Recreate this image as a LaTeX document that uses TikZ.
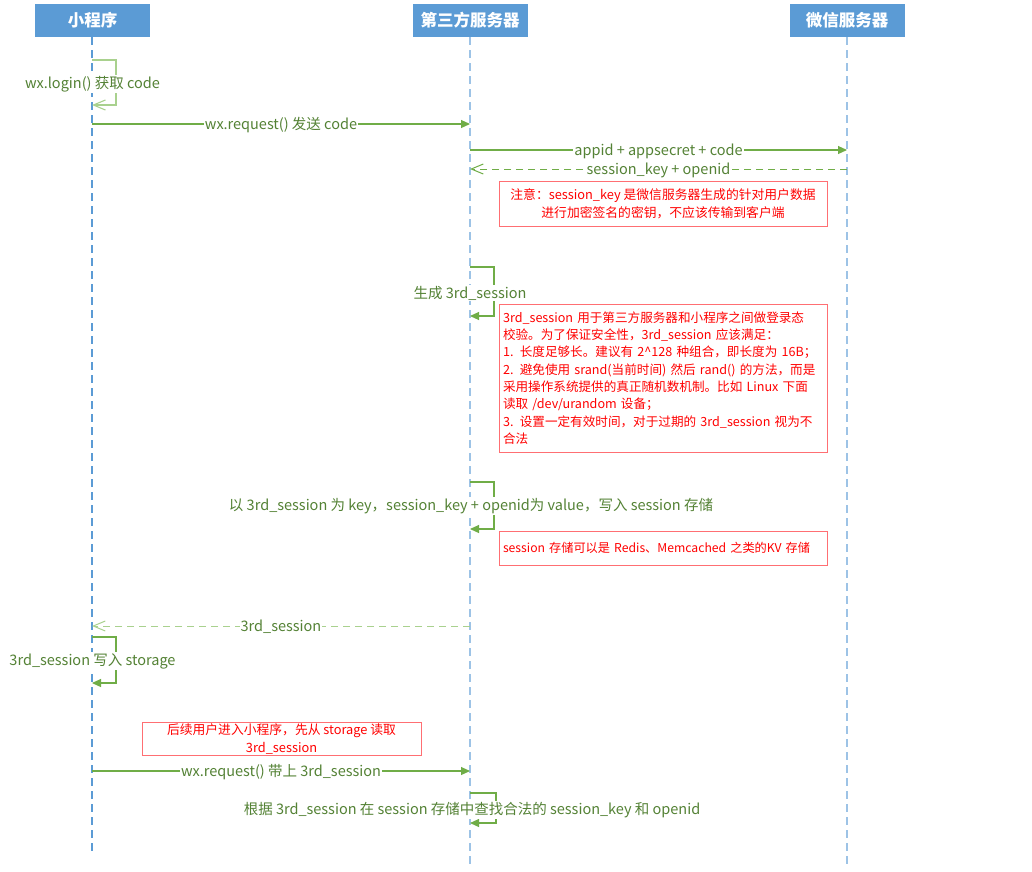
\documentclass[tikz,border=0pt]{standalone}
\usepackage{fontspec}
\setmainfont{Noto Sans CJK SC}
\usetikzlibrary{arrows.meta}
\definecolor{hdr}{HTML}{5B9BD5}
\definecolor{lifedark}{HTML}{5B9BD5}
\definecolor{lifelt}{HTML}{9DC3E6}
\definecolor{msg}{HTML}{70AD47}
\definecolor{msglt}{HTML}{A9D18E}
\definecolor{lbl}{HTML}{548235}
\definecolor{notered}{HTML}{FF0000}
\definecolor{noteborder}{HTML}{FF6F73}
\tikzset{
  hdrbox/.style={fill=hdr, draw=none, text=white, minimum width=115pt, minimum height=33pt, inner sep=0pt, font=\fontsize{16.5}{19}\selectfont\bfseries},
  lifeline/.style={draw=lifelt, line width=1.1pt, dash pattern=on 8pt off 5pt},
  msgline/.style={draw=msg, line width=1.1pt, -{Triangle[length=9pt,width=8pt]}},
  retline/.style={draw=msg, line width=1pt, dash pattern=on 7pt off 5pt, -{Straight Barb[length=12pt,width=10pt]}},
  lab/.style={fill=white, text=lbl, inner sep=1pt, font=\fontsize{14.5}{16}\selectfont},
  notebox/.style={draw=noteborder, line width=1pt, text=notered, inner xsep=4pt, inner ysep=0pt, font=\fontsize{12.8}{18}\selectfont}
}
\begin{document}
\begin{tikzpicture}[x=1pt,y=-1pt]
\useasboundingbox[fill=white] (0,0) rectangle (1032,871);

% headers
\node[hdrbox] (p) at (92.5,20.5) {小程序};
\node[hdrbox] (t) at (470,20.5) {第三方服务器};
\node[hdrbox] (w) at (847,20.5) {微信服务器};

% lifelines
\coordinate (pend) at (92,855);
\coordinate (tend) at (470,866);
\coordinate (wend) at (847,866);
\draw[lifeline, draw=lifedark] (p.south -| pend) -- (pend);
\draw[lifeline] (t.south -| tend) -- (tend);
\draw[lifeline] (w.south -| wend) -- (wend);

% 1 self loop wx.login
\coordinate (l1a) at (92,60);
\coordinate (l1b) at (92,105);
\draw[draw=msglt, line width=1.1pt, -{Straight Barb[length=12pt,width=10pt]}] (l1a) -- ++(24,0) |- (l1b);
\node[lab] (l1t) at (92.5,84) {wx.login() 获取 code};

% 2 wx.request
\coordinate (m2s) at (92,124);
\coordinate (m2e) at (470,124);
\draw[msgline] (m2s) -- node[lab, pos=0.5, yshift=-1pt] (m2t) {wx.request() 发送 code} (m2e);

% 3 appid
\coordinate (m3s) at (470,150);
\coordinate (m3e) at (847,150);
\draw[msgline] (m3s) -- node[lab, yshift=-1pt] (m3t) {appid + appsecret + code} (m3e);

% 4 session_key return
\coordinate (m4s) at (847,169);
\coordinate (m4e) at (470,169);
\draw[retline] (m4s) -- node[lab, yshift=-1pt] (m4t) {session\_key + openid} (m4e);

% note 1
\node[notebox, minimum width=328pt, minimum height=45pt, align=center] (n1) at (663,203.5)
  {注意：session\_key 是微信服务器生成的针对用户数据\\进行加密签名的密钥，不应该传输到客户端};

% 5 self loop gen 3rd_session
\coordinate (l5a) at (470,267);
\coordinate (l5b) at (470,316);
\draw[msgline] (l5a) -- ++(24,0) |- (l5b);
\node[lab] (l5t) at (470,293) {生成 3rd\_session};

% note 2
\node[notebox, minimum width=328pt, minimum height=148pt, text width=320pt, align=left, font=\fontsize{12.6}{17.3}\selectfont] (n2) at (663,378)
  {3rd\_session 用于第三方服务器和小程序之间做登录态\\
   校验。为了保证安全性，3rd\_session 应该满足：\\
   1. 长度足够长。建议有 2\^{}128 种组合，即长度为 16B；\\
   2. 避免使用 srand(当前时间) 然后 rand() 的方法，而是\\
   采用操作系统提供的真正随机数机制。比如 Linux 下面\\
   读取 /dev/urandom 设备；\\
   3. 设置一定有效时间，对于过期的 3rd\_session 视为不\\
   合法};

% 6 self loop store
\coordinate (l6a) at (470,482);
\coordinate (l6b) at (470,529);
\draw[msgline] (l6a) -- ++(24,0) |- (l6b);
\node[lab] (l6t) at (471,506) {以 3rd\_session 为 key，session\_key + openid为 value，写入 session 存储};

% note 3
\node[notebox, minimum width=328pt, minimum height=34pt, text width=320pt, align=left, font=\fontsize{12.2}{18}\selectfont] (n3) at (663,548)
  {session 存储可以是 Redis、Memcached 之类的KV 存储};

% 7 return 3rd_session
\coordinate (m7s) at (470,626);
\coordinate (m7e) at (92,626);
\draw[retline, draw=msglt] (m7s) -- node[lab, yshift=-1pt] (m7t) {3rd\_session} (m7e);

% 8 self loop write storage
\coordinate (l8a) at (92,637);
\coordinate (l8b) at (92,683);
\draw[msgline] (l8a) -- ++(24,0) |- (l8b);
\node[lab] (l8t) at (92.5,661) {3rd\_session 写入 storage};

% note 4
\node[notebox, minimum width=279pt, minimum height=33pt, align=center] (n4) at (281.5,738.5)
  {后续用户进入小程序，先从 storage 读取\\3rd\_session};

% 9 wx.request with 3rd_session
\coordinate (m9s) at (92,771);
\coordinate (m9e) at (470,771);
\draw[msgline] (m9s) -- node[lab, yshift=-1pt] (m9t) {wx.request() 带上 3rd\_session} (m9e);

% 10 self loop lookup
\coordinate (l10a) at (470,793);
\coordinate (l10b) at (470,823);
\draw[msgline] (l10a) -- ++(26,0) |- (l10b);
\node[lab] (l10t) at (472,810) {根据 3rd\_session 在 session 存储中查找合法的 session\_key 和 openid};
\end{tikzpicture}
\end{document}
